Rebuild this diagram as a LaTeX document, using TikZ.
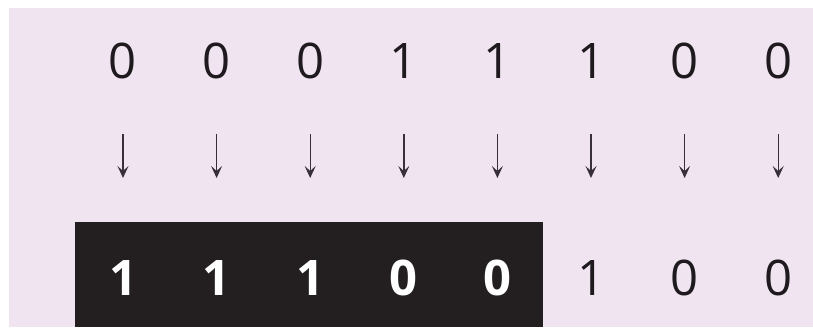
\documentclass[tikz,border=0pt]{standalone}
\usepackage{fontspec}
\setmainfont{Open Sans}
\usetikzlibrary{arrows.meta}
\definecolor{bgpink}{RGB}{240,228,241}
\definecolor{boxblack}{RGB}{35,31,32}
\definecolor{digitink}{RGB}{30,26,30}
\definecolor{arrowink}{RGB}{55,48,58}
\tikzset{
  digit/.style={inner sep=0pt, text=digitink, font=\fontsize{49}{50}\selectfont},
  wdigit/.style={inner sep=0pt, text=white, font=\fontsize{49}{50}\selectfont\bfseries},
  downarrow/.style={draw=arrowink, line width=1.4pt, -{Stealth[length=12pt,width=11pt,inset=5pt]},
    shorten <=73pt, shorten >=100pt}
}
\begin{document}
\begin{tikzpicture}[x=1pt,y=-1pt]
\useasboundingbox (0,0) rectangle (813,327);
\fill[white] (0,0) rectangle (813,327);
\fill[bgpink] (9,8) rectangle (813,327);
\fill[boxblack] (75,222) rectangle (543,327);
\foreach \i/\t [count=\k from 0] in {1/0,2/0,3/0,4/1,5/1,6/1,7/0,8/0}{
  \pgfmathsetmacro{\xx}{123+93.6*\k}
  \node[digit] (t\i) at (\xx,61) {\t};
}
\foreach \i/\b [count=\k from 0] in {1/1,2/1,3/1,4/0,5/0}{
  \pgfmathsetmacro{\xx}{123+93.6*\k}
  \node[wdigit] (b\i) at (\xx,278) {\b};
}
\foreach \i/\b [count=\k from 5] in {6/1,7/0,8/0}{
  \pgfmathsetmacro{\xx}{123+93.6*\k}
  \node[digit] (b\i) at (\xx,278) {\b};
}
\foreach \i in {1,...,8}{
  \draw[downarrow] (t\i.center) -- (b\i.center);
}
\end{tikzpicture}
\end{document}
